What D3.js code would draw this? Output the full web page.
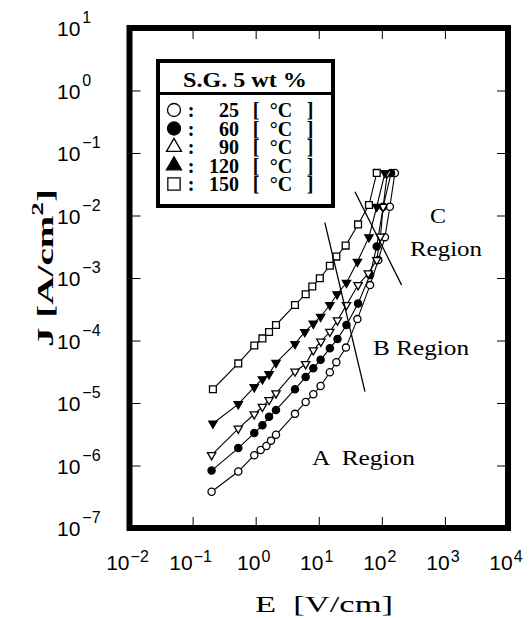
<!DOCTYPE html>
<html>
<head>
<meta charset="utf-8">
<script src="https://cdn.jsdelivr.net/npm/d3@7"></script>
<style>
body { margin: 0; background: #fff; }
</style>
</head>
<body>
<div id="container"></div>
<script>
// tick decades
var decadesX = [-2, -1, 0, 1, 2, 3, 4];
var decadesY = [1, 0, -1, -2, -3, -4, -5, -6, -7];

var legendTitle = "S.G. 5 wt %";
var temps = ["25", "60", "90", "120", "150"];

// E [V/cm] and J [A/cm2]
var e25 = [0.2, 0.53, 0.95, 1.2, 1.48, 1.75, 2.1, 4.2, 6.2, 8.2, 10.7, 15, 19, 27, 41, 65, 88, 112, 134, 161];
var j25 = [3.8e-7, 8.0e-7, 1.46e-6, 1.77e-6, 2.05e-6, 2.5e-6, 3.1e-6, 6.7e-6, 1.04e-5, 1.38e-5, 1.87e-5, 3.1e-5, 4.5e-5, 7.7e-5, 2.2e-4, 7.7e-4, 1.94e-3, 4.5e-3, 1.38e-2, 4.8e-2];

var e60 = [0.2, 0.53, 0.95, 1.28, 1.63, 2.1, 4.2, 6.2, 8.2, 10.7, 15, 19.8, 27.5, 42, 65, 83, 105, 140];
var j60 = [8.3e-7, 1.9e-6, 3.3e-6, 4.4e-6, 6.0e-6, 7.7e-6, 1.66e-5, 2.6e-5, 3.6e-5, 4.9e-5, 7.5e-5, 1.06e-4, 1.77e-4, 3.9e-4, 1.12e-3, 3.2e-3, 1.38e-2, 4.8e-2];

var e90 = [0.2, 0.53, 0.95, 1.28, 1.63, 2.1, 4.2, 6.2, 8.2, 10.8, 15, 19.8, 27.5, 42, 61, 83, 95, 105, 122];
var j90 = [1.47e-6, 3.9e-6, 6.6e-6, 8.7e-6, 1.12e-5, 1.43e-5, 3.2e-5, 4.2e-5, 7.0e-5, 9.6e-5, 1.38e-4, 2.1e-4, 3.7e-4, 7.7e-4, 1.19e-3, 1.94e-3, 4.6e-3, 1.38e-2, 4.8e-2];

var e120 = [0.21, 0.53, 0.95, 1.28, 1.63, 2.1, 4.2, 6.0, 8.2, 10.7, 15, 19.5, 27.5, 41, 62.5, 83, 112];
var j120 = [4.7e-6, 9.6e-6, 1.8e-5, 2.4e-5, 2.9e-5, 4.4e-5, 8.8e-5, 1.37e-4, 1.86e-4, 2.4e-4, 3.7e-4, 5.5e-4, 8.4e-4, 1.82e-3, 4.5e-3, 1.38e-2, 4.8e-2];

var e150 = [0.21, 0.53, 0.95, 1.28, 1.63, 2.1, 4.2, 6.2, 7.9, 10.4, 15, 19, 26.7, 42, 62.5, 83];
var j150 = [1.66e-5, 4.3e-5, 8.3e-5, 1.08e-4, 1.37e-4, 1.77e-4, 3.7e-4, 5.5e-4, 7.3e-4, 9.9e-4, 1.57e-3, 2.2e-3, 3.3e-3, 7.2e-3, 1.47e-2, 4.8e-2];

// region boundary lines [E, J]
var boundaryAB = [[12.5, 7.7e-3], [54, 1.52e-5]];
var boundaryBC = [[37.5, 0.024], [206, 7.7e-4]];

var series = [
    { e: e25, j: j25, shape: "circle", filled: false },
    { e: e60, j: j60, shape: "circle", filled: true },
    { e: e90, j: j90, shape: "triangle", filled: false },
    { e: e120, j: j120, shape: "triangle", filled: true },
    { e: e150, j: j150, shape: "square", filled: false }
];

var W = 531, H = 618;
var plotLeft = 129.5, plotRight = 508, plotTop = 28, plotBottom = 528;

var svg = d3.select("#container")
    .append("svg")
    .attr("width", W)
    .attr("height", H);

var x = d3.scaleLog().domain([1e-2, 1e4]).range([plotLeft, plotRight]);
var y = d3.scaleLog().domain([1e-7, 1e1]).range([plotBottom, plotTop]);

var sans = "'Liberation Sans', Arial, sans-serif";
var serif = "'Liberation Serif', 'Times New Roman', serif";

// inward ticks on all four sides
var xt = decadesX.map(function (d) { return Math.pow(10, d); });
var yt = decadesY.map(function (d) { return Math.pow(10, d); });

function tickAxis(axis, tx, ty)
{
    var g = svg.append("g")
        .attr("transform", "translate(" + tx + "," + ty + ")")
        .call(axis.tickSizeOuter(0).tickFormat(""));
    g.select(".domain").remove();
    g.selectAll(".tick line").attr("stroke", "#000").attr("stroke-width", 1);
}
tickAxis(d3.axisBottom(x).tickValues(xt).tickSize(-11), 0, plotBottom);
tickAxis(d3.axisTop(x).tickValues(xt).tickSize(-11), 0, plotTop);
tickAxis(d3.axisLeft(y).tickValues(yt).tickSize(-11), plotLeft, 0);
tickAxis(d3.axisRight(y).tickValues(yt).tickSize(-11), plotRight, 0);

// tick labels with superscript exponents
var xl = svg.selectAll(".xlab")
    .data(decadesX)
    .enter()
    .append("text")
    .attr("class", "xlab")
    .attr("x", function (d) { return x(Math.pow(10, d)) - 2; })
    .attr("y", 570)
    .attr("text-anchor", "middle")
    .attr("font-family", sans)
    .attr("font-size", 21);
xl.append("tspan").text("10");
xl.append("tspan")
    .attr("dy", -8)
    .attr("dx", 1)
    .attr("font-size", 16)
    .text(function (d) { return d < 0 ? "\u2212" + (-d) : d; });

var yl = svg.selectAll(".ylab")
    .data(decadesY)
    .enter()
    .append("text")
    .attr("class", "ylab")
    .attr("x", 57)
    .attr("y", function (d) { return y(Math.pow(10, d)) + 8; })
    .attr("font-family", sans)
    .attr("font-size", 21);
yl.append("tspan").text("10");
yl.append("tspan")
    .attr("dy", -13)
    .attr("dx", 2)
    .attr("font-size", 16)
    .text(function (d) { return d < 0 ? "\u2212" + (-d) : d; });

// data lines
var line = d3.line()
    .x(function (d) { return x(d[0]); })
    .y(function (d) { return y(d[1]); });

series.forEach(function (s)
{
    var pts = s.e.map(function (v, i) { return [v, s.j[i]]; });
    svg.append("path")
        .datum(pts)
        .attr("d", line)
        .attr("fill", "none")
        .attr("stroke", "#000")
        .attr("stroke-width", 1.1);
});

function marker(g, shape, filled, cx, cy, size, flip)
{
    var m;
    if (shape === "circle")
    {
        m = g.append("circle").attr("cx", cx).attr("cy", cy).attr("r", size);
    }
    else
    {
        var type = shape === "triangle" ? d3.symbolTriangle : d3.symbolSquare;
        var area = shape === "triangle" ? size * size * 2.3 : size * size * 3.6;
        m = g.append("path")
            .attr("d", d3.symbol().type(type).size(area)())
            .attr("transform", "translate(" + cx + "," + cy + ")" + (flip ? " rotate(180)" : ""));
    }
    m.attr("fill", filled ? "#000" : "#fff")
        .attr("stroke", "#000")
        .attr("stroke-width", 1.3);
}

series.forEach(function (s)
{
    var g = svg.append("g");
    s.e.forEach(function (v, i)
    {
        marker(g, s.shape, s.filled, x(v), y(s.j[i]), 3.6, true);
    });
});

// region boundaries
[boundaryAB, boundaryBC].forEach(function (b)
{
    svg.append("path")
        .datum(b)
        .attr("d", line)
        .attr("stroke", "#000")
        .attr("stroke-width", 1.3)
        .attr("fill", "none");
});

function label(txt, tx, ty, len, anchor)
{
    svg.append("text")
        .attr("x", tx)
        .attr("y", ty)
        .attr("text-anchor", anchor || "start")
        .attr("font-family", serif)
        .attr("font-size", 22)
        .attr("textLength", len)
        .attr("lengthAdjust", "spacingAndGlyphs")
        .style("white-space", "pre")
        .text(txt);
}
label("C", 438, 223, 16, "middle");
label("Region", 446, 256, 72, "middle");
label("B Region", 373, 355, 96);
label("A  Region", 312, 465, 103);

// frame
svg.append("rect")
    .attr("x", plotLeft)
    .attr("y", plotTop)
    .attr("width", plotRight - plotLeft)
    .attr("height", plotBottom - plotTop)
    .attr("fill", "none")
    .attr("stroke", "#000")
    .attr("stroke-width", 6);

// legend
var lg = svg.append("g");
lg.append("rect")
    .attr("x", 158)
    .attr("y", 61)
    .attr("width", 175)
    .attr("height", 145)
    .attr("fill", "#fff")
    .attr("stroke", "#000")
    .attr("stroke-width", 4);
lg.append("line")
    .attr("x1", 158).attr("x2", 333)
    .attr("y1", 93.5).attr("y2", 93.5)
    .attr("stroke", "#000")
    .attr("stroke-width", 3);
lg.append("text")
    .attr("x", 245)
    .attr("y", 87)
    .attr("text-anchor", "middle")
    .attr("font-family", serif)
    .attr("font-weight", "bold")
    .attr("font-size", 20)
    .attr("textLength", 124)
    .attr("lengthAdjust", "spacingAndGlyphs")
    .text(legendTitle);

temps.forEach(function (t, i)
{
    var cy = 110 + i * 18.5;
    var s = series[i];
    marker(lg, s.shape, s.filled, 174, cy, 6.5, false);
    var row = [
        { txt: ":", x: 191, anchor: "middle" },
        { txt: t, x: 239, anchor: "end" },
        { txt: "[", x: 256, anchor: "middle" },
        { txt: "\u00b0C", x: 281, anchor: "middle" },
        { txt: "]", x: 310, anchor: "middle" }
    ];
    row.forEach(function (r)
    {
        lg.append("text")
            .attr("x", r.x)
            .attr("y", cy + 7)
            .attr("text-anchor", r.anchor)
            .attr("font-family", serif)
            .attr("font-weight", "bold")
            .attr("font-size", 20)
            .text(r.txt);
    });
});

// axis titles
svg.append("text")
    .attr("x", 255)
    .attr("y", 612)
    .attr("font-family", serif)
    .attr("font-size", 23)
    .attr("textLength", 138)
    .attr("lengthAdjust", "spacingAndGlyphs")
    .style("white-space", "pre")
    .text("E  [V/cm]");

var yTitle = svg.append("text")
    .attr("transform", "translate(53,268) rotate(-90)")
    .attr("text-anchor", "middle")
    .attr("font-family", serif)
    .attr("font-weight", "bold")
    .attr("font-size", 23)
    .attr("textLength", 158)
    .attr("lengthAdjust", "spacingAndGlyphs");
yTitle.append("tspan").text("J [A/cm");
yTitle.append("tspan").attr("dy", -10).attr("font-size", 16).text("2");
yTitle.append("tspan").attr("dy", 10).text("]");
</script>
</body>
</html>
